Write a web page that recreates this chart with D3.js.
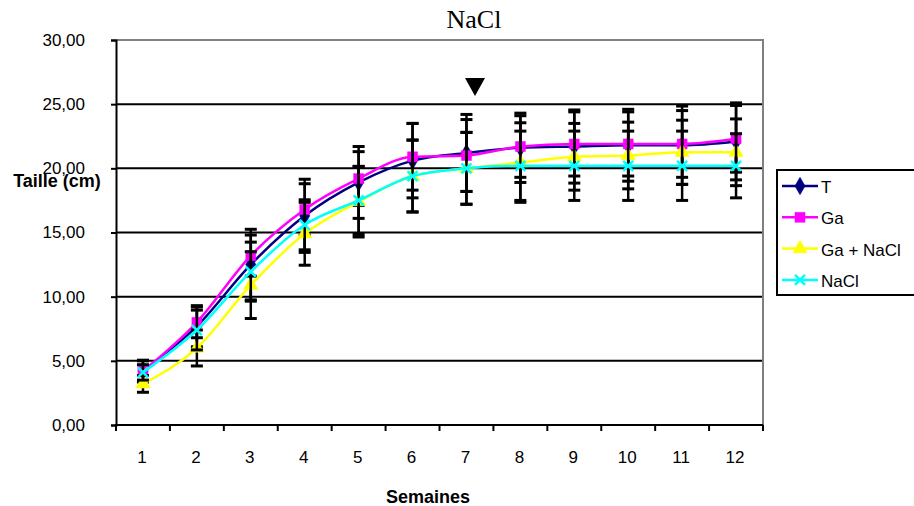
<!DOCTYPE html>
<html>
<head>
<meta charset="utf-8">
<script src="https://cdn.jsdelivr.net/npm/d3@7"></script>
<style>
  body{margin:0;background:#fff;}
  svg{display:block;}
</style>
</head>
<body>
<svg id="chart" width="914" height="506"></svg>
<script>
// semaines
var weeks=[1,2,3,4,5,6,7,8,9,10,11,12];
var yTicks=[0,5,10,15,20,25,30];

// moyennes
var valT=[4.2,7.7,12.5,16.3,18.9,20.6,21.2,21.6,21.7,21.8,21.8,22.1];
var valGa=[4.2,8.0,13.2,16.8,19.2,20.9,21.0,21.7,21.9,21.9,21.9,22.3];
var valGaNaCl=[3.2,6.0,10.9,14.9,17.4,19.4,20.0,20.45,20.9,21.0,21.25,21.25];
var valNaCl=[4.1,7.4,11.95,15.6,17.5,19.4,20.0,20.2,20.2,20.2,20.2,20.2];

// ecarts types (barres d'erreur)
var errT=[0.85,1.6,2.75,2.85,2.8,2.9,3.0,2.7,2.85,2.8,3.05,3.0];
var errGa=[0.8,1.2,1.6,2.0,2.1,2.6,2.8,2.4,2.5,2.5,2.6,2.6];
var errGaNaCl=[0.65,1.4,2.6,2.45,2.75,2.8,2.8,3.1,2.6,2.6,2.5,2.6];
var errNaCl=[0.6,1.55,2.3,1.95,2.65,2.8,2.8,2.7,2.7,2.7,2.7,2.5];

var seriesNames=["T","Ga","Ga + NaCl","NaCl"];
var seriesColors=["#000080","#ff00ff","#ffff00","#00ffff"];
var seriesMarkers=["diamond","square","triangle","cross"];

var series=[
  {name:seriesNames[0],values:valT,err:errT},
  {name:seriesNames[1],values:valGa,err:errGa},
  {name:seriesNames[2],values:valGaNaCl,err:errGaNaCl},
  {name:seriesNames[3],values:valNaCl,err:errNaCl}
];

var svg=d3.select("#chart");
var plotL=116,plotR=763,plotT=40,plotB=425;
var sans="Liberation Sans, Arial";

var x=d3.scalePoint().domain(weeks).range([plotL,plotR]).padding(0.5);
var y=d3.scaleLinear().domain([0,30]).range([plotB,plotT]);
var step=x.step();
var fmt=function(v){return d3.format(".2f")(v).replace(".",",");};

// grille
svg.append("g").selectAll("line").data(yTicks.filter(function(d){return d>0&&d<30;}))
  .enter().append("line")
  .attr("x1",plotL).attr("x2",plotR)
  .attr("y1",function(d){return y(d);}).attr("y2",function(d){return y(d);})
  .attr("stroke","#000").attr("stroke-width",2);

// bordure haut / droite (grise)
svg.append("path")
  .attr("d","M"+plotL+","+y(30)+"H"+plotR+"V"+plotB)
  .attr("fill","none").attr("stroke","#808080").attr("stroke-width",2);

// axe Y
var yAxis=d3.axisLeft(y).tickValues(yTicks).tickSize(5).tickPadding(26).tickFormat(fmt);
var gy=svg.append("g").attr("transform","translate("+plotL+",0)").call(yAxis);
gy.select(".domain").attr("stroke","#000").attr("stroke-width",2);
gy.selectAll(".tick line").attr("stroke","#000").attr("stroke-width",2);
gy.selectAll(".tick text").attr("font-family",sans).attr("font-size",17).attr("fill","#000");

// axe X
svg.append("line").attr("x1",plotL-1).attr("x2",plotR).attr("y1",plotB).attr("y2",plotB)
  .attr("stroke","#000").attr("stroke-width",2);
var bounds=d3.range(weeks.length+1).map(function(i){return plotL+i*step;});
svg.append("g").selectAll("line").data(bounds).enter().append("line")
  .attr("x1",function(d){return d;}).attr("x2",function(d){return d;})
  .attr("y1",plotB).attr("y2",plotB+6)
  .attr("stroke","#000").attr("stroke-width",2);
svg.append("g").selectAll("text").data(weeks).enter().append("text")
  .attr("x",function(d){return x(d)-1;}).attr("y",463)
  .attr("text-anchor","middle")
  .attr("font-family",sans).attr("font-size",17)
  .text(function(d){return d;});

// titres
svg.append("text").attr("x",474).attr("y",28).attr("text-anchor","middle")
  .attr("font-family","Liberation Serif, Times New Roman").attr("font-size",26).text("NaCl");
svg.append("text").attr("x",428).attr("y",503).attr("text-anchor","middle")
  .attr("font-family",sans).attr("font-size",18).attr("font-weight","bold").text("Semaines");
svg.append("text").attr("x",57).attr("y",187).attr("text-anchor","middle")
  .attr("font-family",sans).attr("font-size",18).attr("font-weight","bold").text("Taille (cm)");

// fleche (triangle noir)
svg.append("path").attr("d","M465,78L485,78L475,96Z").attr("fill","#000");

function markerPath(type,s){
  if(type==="diamond") return d3.symbol(d3.symbolDiamond,s*s*0.9)();
  if(type==="square") return d3.symbol(d3.symbolSquare,s*s)();
  if(type==="triangle") return d3.symbol(d3.symbolTriangle,s*s*0.9)();
  return "M"+(-s/2)+","+(-s/2)+"L"+(s/2)+","+(s/2)+"M"+(-s/2)+","+(s/2)+"L"+(s/2)+","+(-s/2);
}

var line=d3.line().x(function(d,i){return x(weeks[i]);}).y(function(d){return y(d);}).curve(d3.curveMonotoneX);

series.forEach(function(s,k){
  var g=svg.append("g");
  // barres d'erreur
  var eb=g.append("g").selectAll("g").data(s.values).enter().append("g")
    .attr("transform",function(d,i){return "translate("+x(weeks[i])+",0)";});
  eb.append("line").attr("x1",0).attr("x2",0)
    .attr("y1",function(d,i){return y(d+s.err[i]);}).attr("y2",function(d,i){return y(d-s.err[i]);})
    .attr("stroke","#000").attr("stroke-width",2.5);
  eb.append("line").attr("x1",-6).attr("x2",6)
    .attr("y1",function(d,i){return y(d+s.err[i]);}).attr("y2",function(d,i){return y(d+s.err[i]);})
    .attr("stroke","#000").attr("stroke-width",3);
  eb.append("line").attr("x1",-6).attr("x2",6)
    .attr("y1",function(d,i){return y(d-s.err[i]);}).attr("y2",function(d,i){return y(d-s.err[i]);})
    .attr("stroke","#000").attr("stroke-width",3);
  // courbe
  g.append("path").datum(s.values).attr("d",line)
    .attr("fill","none").attr("stroke",seriesColors[k]).attr("stroke-width",2.5);
  // marqueurs
  g.append("g").selectAll("path").data(s.values).enter().append("path")
    .attr("transform",function(d,i){return "translate("+x(weeks[i])+","+y(d)+")";})
    .attr("d",markerPath(seriesMarkers[k],10))
    .attr("fill",seriesMarkers[k]==="cross"?"none":seriesColors[k])
    .attr("stroke",seriesColors[k]).attr("stroke-width",seriesMarkers[k]==="cross"?2.5:0.5);
});

// legende
var leg=svg.append("g");
leg.append("rect").attr("x",777).attr("y",170).attr("width",150).attr("height",125)
  .attr("fill","#fff").attr("stroke","#000").attr("stroke-width",2);
series.forEach(function(s,k){
  var ly=186+k*31.3;
  leg.append("line").attr("x1",782).attr("x2",818).attr("y1",ly).attr("y2",ly)
    .attr("stroke",seriesColors[k]).attr("stroke-width",2.5);
  leg.append("path").attr("transform","translate(800,"+ly+")")
    .attr("d",markerPath(seriesMarkers[k],10))
    .attr("fill",seriesMarkers[k]==="cross"?"none":seriesColors[k])
    .attr("stroke",seriesColors[k]).attr("stroke-width",seriesMarkers[k]==="cross"?2.5:0.5);
  leg.append("text").attr("x",821).attr("y",ly+7)
    .attr("font-family",sans).attr("font-size",17).text(s.name);
});
</script>
</body>
</html>
